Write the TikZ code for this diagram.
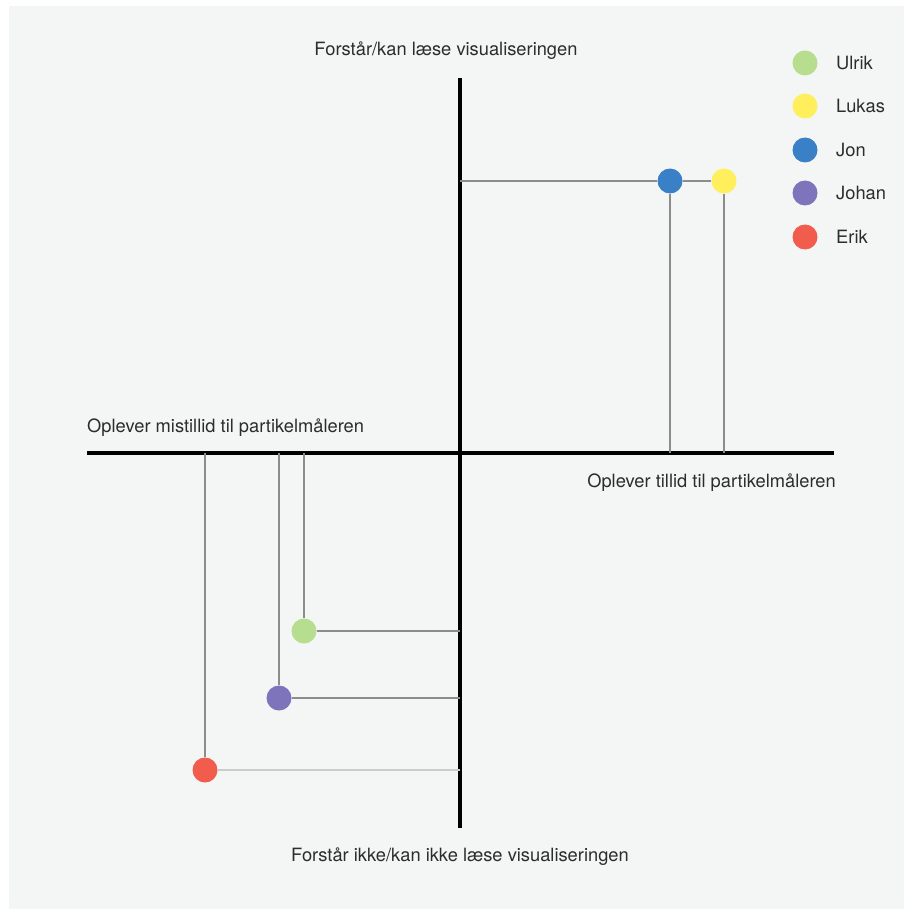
\documentclass[tikz,border=0pt]{standalone}
\usepackage{fontspec}
\setmainfont{TeX Gyre Heros}
\definecolor{panel}{HTML}{F3F6F5}
\definecolor{cUlrik}{HTML}{B6DE8E}
\definecolor{cLukas}{HTML}{FFEF5C}
\definecolor{cJon}{HTML}{3A80C6}
\definecolor{cJohan}{HTML}{7D74BC}
\definecolor{cErik}{HTML}{F25C4C}
\definecolor{ink}{HTML}{2C2C2C}
\begin{document}
\begin{tikzpicture}[x=1pt, y=-1pt,
    dot/.style={circle, inner sep=0pt, minimum size=25pt},
    guide/.style={draw=black!45, line width=1.2pt},
    axis/.style={draw=black, line width=4pt},
    lbl/.style={text=ink, font=\fontsize{18.3}{21}\selectfont, inner sep=0pt}]
    % Page and panel
    \useasboundingbox (0,0) rectangle (904,909);
    \fill[white] (0,0) rectangle (904,909);
    \fill[panel] (9,6) rectangle (904,909);
    % Axes
    \coordinate (ytop) at (460,78);
    \coordinate (ybot) at (460,828);
    \coordinate (xleft) at (87,453);
    \coordinate (xright) at (834,453);
    \draw[axis] (ytop) -- (ybot);
    \draw[axis] (xleft) -- (xright);
    % Axis labels
    \node[lbl, anchor=base] (top) at (446,56) {Forstår/kan læse visualiseringen};
    \node[lbl, anchor=base] (bottom) at (460,861) {Forstår ikke/kan ikke læse visualiseringen};
    \node[lbl, anchor=base west] (left) at (87,432) {Oplever mistillid til partikelmåleren};
    \node[lbl, anchor=base east] (right) at (836,487) {Oplever tillid til partikelmåleren};
    % People
    \node[dot, fill=cJon] (jon) at (670,181) {};
    \node[dot, fill=cLukas] (lukas) at (724,181) {};
    \node[dot, fill=cUlrik] (ulrik) at (304,631) {};
    \node[dot, fill=cJohan] (johan) at (279,698) {};
    \node[dot, fill=cErik] (erik) at (205,770) {};
    % Projections onto the axes
    \coordinate (jonx) at (670,453);
    \coordinate (lukasx) at (724,453);
    \coordinate (jony) at (460,181);
    \coordinate (ulrikx) at (304,453);
    \coordinate (johanx) at (279,453);
    \coordinate (erikx) at (205,453);
    \coordinate (ulriky) at (460,631);
    \coordinate (johany) at (460,698);
    \coordinate (eriky) at (460,770);
    \draw[guide] (jony) -- (jon);
    \draw[guide] (jon) -- (lukas);
    \draw[guide] (jon) -- (jonx);
    \draw[guide] (lukas) -- (lukasx);
    \draw[guide] (ulrikx) -- (ulrik);
    \draw[guide] (johanx) -- (johan);
    \draw[guide] (erikx) -- (erik);
    \draw[guide] (ulrik) -- (ulriky);
    \draw[guide] (johan) -- (johany);
    \draw[guide, draw=black!20] (erik) -- (eriky);
    % Legend
    \foreach \name/\y in {Ulrik/63, Lukas/106, Jon/150, Johan/193, Erik/237} {
        \node[dot, fill=c\name] (leg\name) at (805,\y) {};
        \node[lbl, anchor=base west] (txt\name) at (836,\y+6.5) {\name};
    }
\end{tikzpicture}
\end{document}
